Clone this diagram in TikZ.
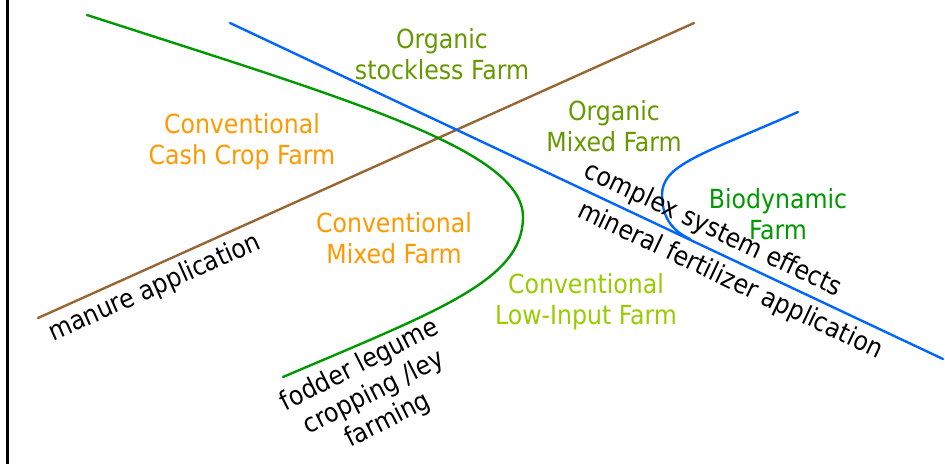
\documentclass[tikz,border=0pt]{standalone}
\usepackage{fontspec}
\setmainfont{DejaVu Sans Condensed}
\definecolor{corange}{HTML}{FF9900}
\definecolor{colive}{HTML}{669900}
\definecolor{cgreen}{HTML}{009900}
\definecolor{cyg}{HTML}{99CC00}
\definecolor{cblue}{HTML}{0066FF}
\definecolor{cbrown}{HTML}{996633}
\begin{document}
\begin{tikzpicture}[x=1pt,y=-1pt,
  lbl/.style={font=\fontsize{26.3}{31}\selectfont, align=center, inner sep=0pt},
  ln/.style={line width=2.4pt, line cap=round}]
\useasboundingbox (0,0) rectangle (945,464);
\fill[white] (0,0) rectangle (945,464);
\draw[line width=2.5pt] (7.5,0) -- (7.5,464);
% straight lines
\coordinate (b1) at (38,318);
\coordinate (b2) at (694,23);
\coordinate (l1) at (230,23);
\coordinate (l2) at (943,359);
\draw[ln, cbrown] (b1) -- (b2);
\draw[ln, cblue] (l1) -- (l2);
% green curve
\coordinate (g1) at (87,15);
\coordinate (g2) at (523,217);
\coordinate (g3) at (283,377);
\draw[ln, cgreen] (g1) .. controls (350,100) and (523,150) .. (g2)
  .. controls (523,280) and (440,310) .. (g3);
% blue curve
\coordinate (c1) at (798,112);
\coordinate (c2) at (662,195);
\coordinate (c3) at (690,239);
\draw[ln, cblue] (c1) .. controls (700,155) and (662,165) .. (c2)
  .. controls (662,220) and (675,232) .. (c3);
% labels
\node[lbl, text=colive] (stockless) at (442,54) {Organic\\stockless Farm};
\node[lbl, text=corange] (cashcrop) at (242,142) {Conventional\\Cash Crop Farm};
\node[lbl, text=colive] (orgmixed) at (614,126) {Organic\\Mixed Farm};
\node[lbl, text=corange] (convmixed) at (394,238) {Conventional\\Mixed Farm};
\node[lbl, text=cgreen] (biodyn) at (778,214) {Biodynamic\\Farm};
\node[lbl, text=cyg] (lowinput) at (586,302) {Conventional\\Low-Input Farm};
\node[lbl, rotate=24] (manure) at (155,288) {manure application};
\node[lbl, rotate=27] (fodder) at (374,393) {fodder legume\\cropping /ley\\farming};
\node[lbl, rotate=-25.3] (complex) at (713,230) {complex system effects};
\node[lbl, rotate=-25.3] (mineral) at (730,281) {mineral fertilizer application};
\end{tikzpicture}
\end{document}
